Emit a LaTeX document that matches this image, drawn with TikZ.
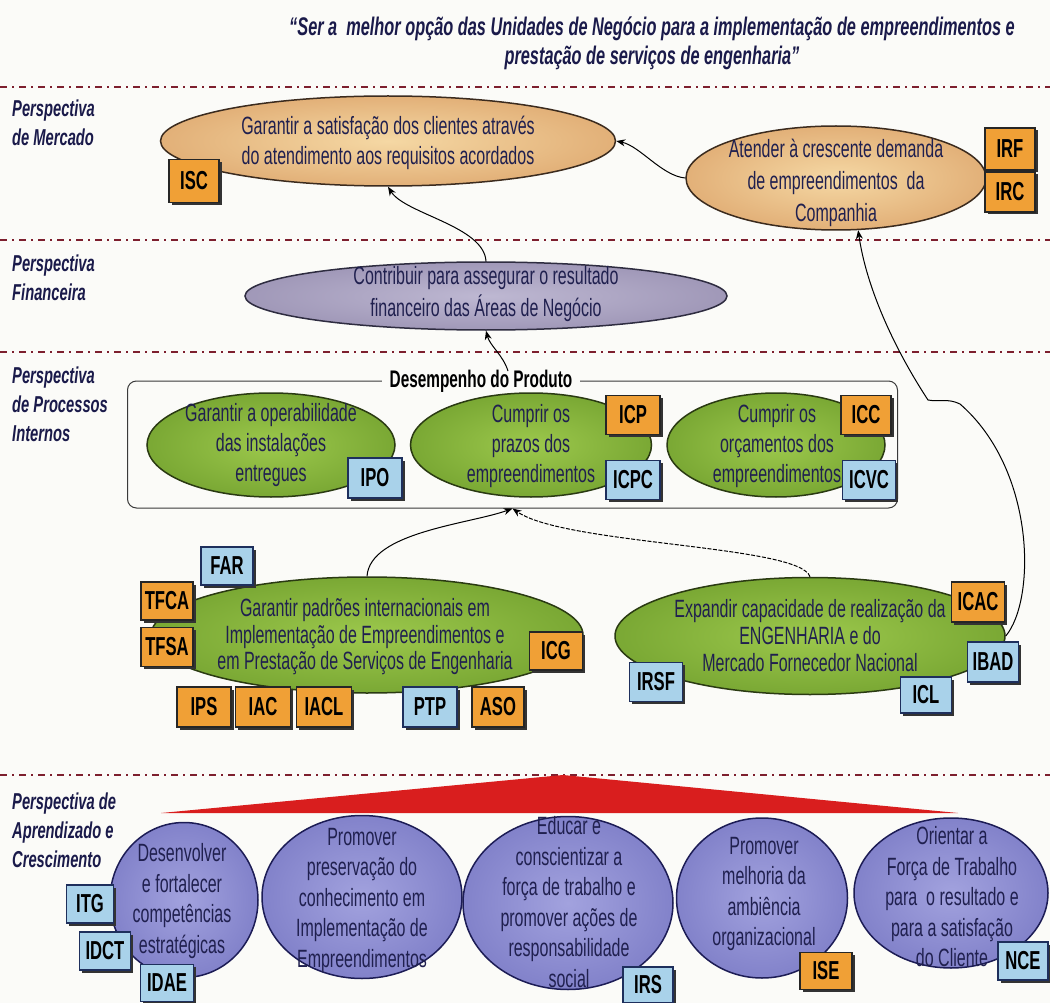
\documentclass[tikz,border=0pt]{standalone}
\usepackage{fontspec}
\setmainfont{Liberation Sans}[FakeStretch=0.64]
\usetikzlibrary{arrows.meta,shapes.geometric,shadows}

\definecolor{bgcol}{HTML}{FBFBF8}
\definecolor{sepcol}{HTML}{7D1F2E}
\definecolor{labcol}{HTML}{1A1A4A}
\definecolor{txtcol}{HTML}{20204F}
\definecolor{mkline}{HTML}{3B2B1E}
\definecolor{mkin}{HTML}{F5D8A4}
\definecolor{mkout}{HTML}{E2B078}
\definecolor{finline}{HTML}{2E2C40}
\definecolor{finin}{HTML}{BEB8D2}
\definecolor{finout}{HTML}{A098B8}
\definecolor{procline}{HTML}{2A3A12}
\definecolor{procin}{HTML}{9CC84C}
\definecolor{procout}{HTML}{7AA834}
\definecolor{lrnline}{HTML}{1C1C55}
\definecolor{lrnin}{HTML}{A2A2DE}
\definecolor{lrnout}{HTML}{8282CA}
\definecolor{tagor}{HTML}{F0A036}
\definecolor{tagbl}{HTML}{A9D2EA}
\definecolor{tagbline}{HTML}{1E2F5C}
\definecolor{tricol}{HTML}{D91E1E}
\definecolor{boxline}{HTML}{3A3A3A}

\tikzset{
  sep/.style={draw=sepcol, line width=2.8pt, dash pattern=on 7pt off 5pt on 2pt off 5pt},
  persp/.style={anchor=north west, inner sep=0, align=left, text=labcol,
    font=\fontsize{23}{29}\selectfont\bfseries\itshape},
  body/.style={inner sep=0, align=center, text=txtcol, font=\fontsize{25}{30}\selectfont},
  goal/.style={ellipse, inner sep=0, line width=1.5pt},
  mktell/.style={goal, draw=mkline, inner color=mkin, outer color=mkout},
  finell/.style={goal, draw=finline, inner color=finin, outer color=finout},
  procell/.style={goal, draw=procline, inner color=procin, outer color=procout},
  lrnell/.style={goal, draw=lrnline, inner color=lrnin, outer color=lrnout},
  tag/.style={rectangle, inner sep=0, line width=1.3pt, minimum width=52pt, minimum height=40pt,
    font=\fontsize{26}{26}\selectfont\bfseries, text=black,
    drop shadow={shadow xshift=2.5pt, shadow yshift=-2.5pt, fill=black!80, opacity=1}},
  otag/.style={tag, draw=black!85, fill=tagor},
  btag/.style={tag, draw=tagbline, fill=tagbl},
  link/.style={draw=black, line width=1pt, -{Stealth[length=9pt,width=7pt]}},
}

\begin{document}
\begin{tikzpicture}[x=1pt,y=-1pt]
\useasboundingbox (0,0) rectangle (1050,1003);
\fill[bgcol] (0,0) rectangle (1050,1003);

% vision statement
\node[inner sep=0, align=center, text=labcol, font=\fontsize{25.5}{29}\selectfont\bfseries\itshape]
  (vision) at (652,43) {“Ser a\ \ melhor opção das Unidades de Negócio para a implementação de empreendimentos e\\prestação de serviços de engenharia”};

% perspective separators
\foreach \yy in {87,240,352,775} \draw[sep] (0,\yy) -- (1050,\yy);

% perspective names
\node[persp] (pm) at (12,100) {Perspectiva\\de Mercado};
\node[persp] (pf) at (12,255) {Perspectiva\\Financeira};
\node[persp] (pp) at (12,367) {Perspectiva\\de Processos\\Internos};
\node[persp] (pa) at (12,793) {Perspectiva de\\Aprendizado e\\Crescimento};

% market perspective
\node[mktell, minimum width=455pt, minimum height=90pt] (mk1) at (388,141) {};
\node[body] (mk1t) at (388,143) {Garantir a satisfação dos clientes através\\do atendimento aos requisitos acordados};
\node[mktell, minimum width=300pt, minimum height=104pt] (mk2) at (836,178) {};
\node[body, font=\fontsize{25}{32}\selectfont] (mk2t) at (836,183) {Atender à crescente demanda\\de empreendimentos\ \ da\\Companhia};
\node[otag, minimum width=50pt, minimum height=43pt] (isc) at (194,181) {ISC};
\node[otag, minimum width=50pt, minimum height=42pt] (irf) at (1010,149) {IRF};
\node[otag, minimum width=50pt, minimum height=40pt] (irc) at (1010,192) {IRC};

% financial perspective
\node[finell, minimum width=482pt, minimum height=68pt] (fin) at (486,296) {};
\node[body, font=\fontsize{25}{32}\selectfont] (fint) at (486,294) {Contribuir para assegurar o resultado\\financeiro das Áreas de Negócio};

% product performance group
\node[draw=boxline, line width=1pt, rounded corners=9pt, minimum width=770pt, minimum height=127pt, inner sep=0]
  (dp) at (512.5,444.5) {};
\node[fill=bgcol, inner xsep=8pt, inner ysep=2pt, font=\fontsize{24}{28}\selectfont\bfseries, text=black]
  (dpt) at (481,381) {Desempenho do Produto};

\node[procell, minimum width=248pt, minimum height=104pt] (e1) at (271,445) {};
\node[body] (e1t) at (271,445) {Garantir a operabilidade\\das instalações\\entregues};
\node[procell, minimum width=241pt, minimum height=104pt] (e2) at (531,445) {};
\node[body] (e2t) at (531,446) {Cumprir os\\prazos dos\\empreendimentos};
\node[procell, minimum width=218pt, minimum height=104pt] (e3) at (776,445) {};
\node[body] (e3t) at (777,446) {Cumprir os\\orçamentos dos\\empreendimentos};
\node[btag, minimum width=54pt] (ipo) at (375,478) {IPO};
\node[otag, minimum width=54pt, minimum height=39pt] (icp) at (633,415) {ICP};
\node[btag, minimum width=54pt, minimum height=39pt] (icpc) at (633,480) {ICPC};
\node[otag, minimum width=50pt, minimum height=39pt] (icc) at (866,415) {ICC};
\node[btag, minimum width=53pt, minimum height=39pt] (icvc) at (869,480) {ICVC};

% internal process objectives
\node[procell, minimum width=432pt, minimum height=116pt] (g1) at (367,635) {};
\node[body, font=\fontsize{25}{26.5}\selectfont] (g1t) at (365,637)
  {Garantir padrões internacionais em\\Implementação de Empreendimentos e\\em Prestação de Serviços de Engenharia};
\node[procell, minimum width=390pt, minimum height=117pt] (g2) at (810,636) {};
\node[body, font=\fontsize{25}{27}\selectfont] (g2t) at (810,636)
  {Expandir capacidade de realização da\\ENGENHARIA e do\\Mercado Fornecedor Nacional};

\node[btag, minimum height=38pt] (far) at (227,566) {FAR};
\node[otag, minimum height=38pt] (tfca) at (167,601) {TFCA};
\node[otag, minimum height=39pt] (tfsa) at (167,647) {TFSA};
\node[otag, minimum width=53pt, minimum height=38pt] (icg) at (556,651) {ICG};
\node[otag, minimum width=54pt] (ips) at (204,707) {IPS};
\node[otag, minimum width=55pt] (iac) at (263,707) {IAC};
\node[otag, minimum width=55pt] (iacl) at (324,707) {IACL};
\node[btag, minimum width=54pt] (ptp) at (430,707) {PTP};
\node[otag] (aso) at (498,707) {ASO};
\node[otag, minimum width=53pt] (icac) at (978,602) {ICAC};
\node[btag, minimum width=51pt] (ibad) at (993,662) {IBAD};
\node[btag, minimum width=53pt, minimum height=39pt] (irsf) at (656,682) {IRSF};
\node[btag, minimum width=51pt, minimum height=36pt] (icl) at (926,695) {ICL};

% cause and effect links
\draw[link] (mk2.west) .. controls (662,176) and (640,146) .. (mk1.east);
\draw[link] (fin.north) .. controls (484,226) and (405,214) .. (mk1.south);
\coordinate (dtop) at (508,371);
\draw[link] (dtop) .. controls (503,355) and (490,346) .. (fin.south);
\draw[link] (g1.north) .. controls (370,532) and (470,524) .. (dp.south);
\draw[link, dash pattern=on 4pt off 1.5pt] (g2.north) .. controls (800,545) and (565,545) .. (dp.south);
\draw[link] (g2.east) .. controls (1036,600) and (1036,470) .. (960,404)
  .. controls (948,398) and (938,402) .. (928,400)
  .. controls (892,345) and (866,285) .. (mk2.-67);

% learning and growth
\fill[tricol] (161,813) -- (563,775) -- (958,813) -- cycle;

\node[lrnell, minimum width=148pt, minimum height=155pt] (b1) at (184,900) {};
\node[body, font=\fontsize{25}{30.5}\selectfont] (b1t) at (182,901) {Desenvolver\\e fortalecer\\competências\\estratégicas};
\node[lrnell, minimum width=200pt, minimum height=163pt] (b2) at (362,897) {};
\node[body, font=\fontsize{25}{30.5}\selectfont] (b2t) at (362,900) {Promover\\preservação do\\conhecimento em\\Implementação de\\Empreendimentos};
\node[lrnell, minimum width=210pt, minimum height=173pt] (b3) at (568,903) {};
\node[body, font=\fontsize{25}{30.5}\selectfont] (b3t) at (569,902) {Educar e\\conscientizar a\\força de trabalho e\\promover ações de\\responsabilidade\\social};
\node[lrnell, minimum width=171pt, minimum height=160pt] (b4) at (762,898) {};
\node[body, font=\fontsize{25}{30.5}\selectfont] (b4t) at (764,894) {Promover\\melhoria da\\ambiência\\organizacional};
\node[lrnell, minimum width=194pt, minimum height=150pt] (b5) at (951,893) {};
\node[body, font=\fontsize{25}{30.5}\selectfont] (b5t) at (952,897) {Orientar a\\Força de Trabalho\\para\ \ o resultado e\\para a satisfação\\do Cliente};

\node[btag, minimum width=47pt, minimum height=38pt] (itg) at (90,904) {ITG};
\node[btag, minimum width=51pt, minimum height=38pt] (idct) at (105,951) {IDCT};
\node[btag, minimum width=53pt, minimum height=37pt] (idae) at (167,983) {IDAE};
\node[btag, minimum width=50pt, minimum height=36pt] (irs) at (648,985) {IRS};
\node[otag, minimum width=52pt, minimum height=37pt] (ise) at (826,971) {ISE};
\node[btag, minimum width=50pt, minimum height=38pt] (nce) at (1023,961) {NCE};
\end{tikzpicture}
\end{document}
